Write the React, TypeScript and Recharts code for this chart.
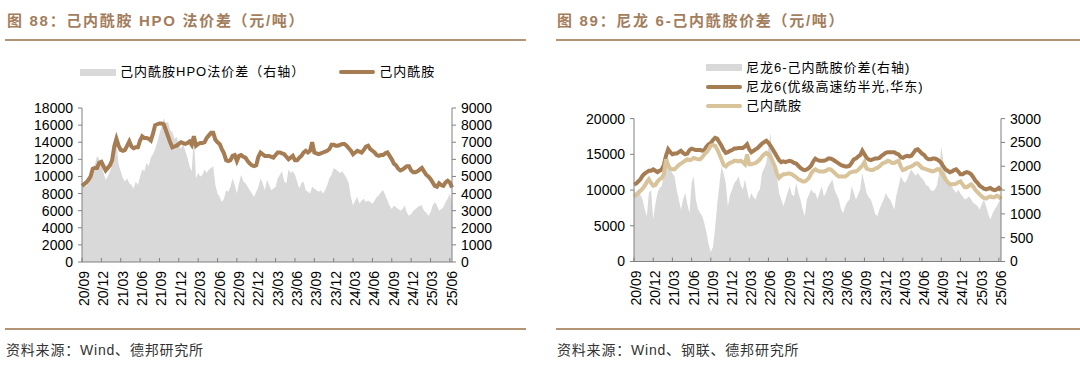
import React from 'react';
import { ComposedChart, Line, Area, XAxis, YAxis } from 'recharts';

// ---------- categories / tick labels ----------
const TICK_LABELS = ['20/09','20/12','21/03','21/06','21/09','21/12','22/03','22/06','22/09','22/12','23/03','23/06','23/09','23/12','24/03','24/06','24/09','24/12','25/03','25/06'];
const POINTS_PER_MONTH = 3; // one sample every ~10 days, starting 2020/09
const LEFT1_TICKS = [0,2000,4000,6000,8000,10000,12000,14000,16000,18000];
const RIGHT1_TICKS = [0,1000,2000,3000,4000,5000,6000,7000,8000,9000];
const LEFT2_TICKS = [0,5000,10000,15000,20000];
const RIGHT2_TICKS = [0,500,1000,1500,2000,2500,3000];

// ---------- chart 88 ----------
// 己内酰胺HPO法价差 (right axis)
const hpoSpread = [
4450,4600,4400,4900,5200,5500,5700,6200,6000,5800,5200,4800,5000,5300,5700,6400,7000,5700,5300,4900,
4700,4900,4600,4500,4300,4700,4500,5000,5400,5300,5800,5600,6100,6300,6600,7000,7500,7900,8400,8100,
8200,7700,7600,7200,7300,6900,6600,6900,6500,6100,5600,5300,7300,4900,5200,5000,5100,5400,5200,5400,
5500,5600,4500,4000,3800,3500,3700,4200,4100,4400,4900,4500,4000,4600,5100,4700,4600,4400,4200,4000,
3800,4100,4400,4900,4600,4200,4800,4500,4200,4300,4400,4900,5100,5300,4700,4600,5400,5200,5300,5100,
4700,4300,4600,4700,4200,4100,4000,4400,4300,4200,4100,4200,4000,4200,4500,4900,5100,5500,5400,5300,
5200,5300,5100,4900,4600,3800,3300,3600,3800,3400,3600,3700,3500,3600,3500,3400,3600,3800,3900,4100,
4200,3900,3600,3300,3100,3300,3200,3100,3000,3100,3300,2900,2700,2800,3000,3100,3200,3300,3300,3000,
2900,2700,2900,3300,3500,3300,3000,3100,3200,3500,3700,4000,3400
];
// 己内酰胺 (left axis)
const caprolactam88 = [
8900,9100,9300,9600,10000,10900,11000,11000,11600,11700,11200,10700,11000,11300,11900,13500,14400,13600,13100,13000,
13100,13600,14100,13500,13300,13400,13400,14200,14700,14500,14500,14400,14200,15000,16000,16100,16200,16200,16100,15400,
14700,14000,13400,13500,13600,13800,14000,13900,13800,13900,14100,13700,14700,13600,13800,13900,13900,14000,14500,14800,
15100,15100,14300,14000,13800,13200,12700,11900,11800,11900,12400,12500,11800,12400,12500,12300,12200,11800,11500,11300,
11200,11300,12300,12800,12600,12400,12400,12400,12300,12200,12500,12800,12800,12700,12600,12300,12000,12200,12400,11900,
11900,12200,12400,12800,13000,12800,13000,14000,12800,12700,12600,12700,12800,12900,13000,13200,13700,13700,13600,13600,
13700,13800,13800,13600,13300,13000,12600,12800,13000,12900,12800,13100,13500,13600,13200,13000,12800,12500,12400,12500,
12500,12700,12800,12400,12000,11500,11300,10900,10700,10800,11000,11200,11200,10700,10500,10500,10600,10800,11000,10600,
10200,10000,9700,9300,8900,8800,9200,9000,8900,9300,9500,9300,8700
];

// ---------- chart 89 ----------
// 尼龙6-己内酰胺价差 (right axis)
const nylonSpread = [
1500,1450,1520,1400,1300,1100,950,1450,1500,880,1200,1440,1550,1580,1850,2000,2200,1950,1850,1790,
1500,1300,1090,1300,1440,1200,1020,1650,1790,1300,1100,1020,950,800,600,350,200,300,700,1200,
1600,2000,1850,1650,1160,1400,1510,1650,1700,1790,1600,1510,1720,1500,1300,1440,1350,1300,1450,1510,
1860,1950,2070,2400,2700,2000,1900,1790,1440,1300,1160,1300,1450,1580,1400,1370,1650,1450,1300,1100,
950,1300,1400,1510,1450,1440,1300,1450,1580,1370,1450,1580,1650,1720,1510,1400,1300,1100,1020,1160,
1250,1300,1580,1450,1300,1400,1510,1860,1650,1440,1350,1300,1160,1000,950,1090,1200,1300,1440,1350,
1300,1200,1090,1400,1580,1790,1700,1650,1720,1850,1930,1860,1800,1860,1790,1750,1690,1600,1580,1500,
1480,1510,1600,1860,2420,2100,1860,1700,1650,1580,1500,1440,1510,1420,1370,1300,1320,1370,1300,1230,
1200,1160,1090,1200,1300,1160,1000,880,1000,1090,1160,1250,1300
];
// 尼龙6(优级高速纺半光,华东) (left axis)
const nylon6 = [
10800,10900,11200,11500,12000,12300,12500,12700,12700,12900,12700,12500,12700,12900,13500,14800,15700,15300,15000,15100,
15100,15300,15500,15200,15000,15100,15600,15800,15700,15600,15600,15600,15500,15600,16100,16400,16600,17000,17300,17200,
16700,16200,15600,15200,15300,15500,15600,15800,15800,15900,15900,15900,16100,16400,15700,15300,15500,15700,15900,16200,
16500,16700,16900,16600,16200,15700,15200,14700,14200,13900,14000,13900,14000,14100,14000,13800,13700,13400,13100,12900,
12800,12900,13100,13400,14000,14400,14200,14100,14100,14100,14200,14400,14400,14300,14100,13900,13700,13500,13400,13300,
13300,13400,13800,14300,14400,14700,14900,15500,15000,14500,14300,14200,14300,14400,14400,14500,14800,15000,15200,15300,
15300,15300,15300,15100,15000,14600,14500,14700,14800,14700,14800,15200,15600,15700,15400,15100,14900,14500,14300,14300,
14400,14400,14300,14100,13800,13300,12900,12700,12500,12600,12800,12900,12600,12200,12200,12400,12500,12400,12200,11800,
11300,11000,10600,10400,10200,10100,10200,10300,10100,10000,10100,10300,10000
];
// 己内酰胺 (left axis)
const caprolactam89 = [
9100,9300,9600,9900,10200,10600,11100,11500,11000,10600,10700,11200,11500,11700,12200,14300,13500,13000,12900,12900,
13200,13500,13700,13900,14100,14300,14200,14300,14500,14400,14300,14300,14600,15000,15300,15700,16200,16300,16200,15700,
15000,14300,13500,13300,13600,13800,13900,14100,14100,14000,14100,13900,13600,15000,13600,13600,13700,13800,14000,14300,
14700,15000,15200,15000,14700,14000,13300,12300,11700,12000,12200,12200,12300,12300,12200,12000,11800,11500,11400,11200,
11200,11400,11700,12300,12700,12900,12700,12600,12600,12600,12700,12900,12900,12700,12400,12100,11900,11900,11900,11900,
12100,12400,12500,12600,12600,12800,13100,13400,13900,13000,12900,12800,12800,13000,13100,13300,13600,13800,13900,14100,
14000,13800,13800,14000,14100,13300,12800,12900,13100,13200,13300,13500,13700,13700,13400,13100,13000,12900,12800,12700,
12600,12700,12900,12900,12500,12000,11500,11100,10800,10800,10800,10900,11100,11200,10800,10400,10400,10600,10800,10500,
10000,9700,9400,9100,8900,8800,9000,9100,9000,9000,9200,9100,8700
];

const data88 = hpoSpread.map((v, i) => ({ m: i / POINTS_PER_MONTH, spread: v, capro: caprolactam88[i] }));
const data89 = nylonSpread.map((v, i) => ({ m: i / POINTS_PER_MONTH, spread: v, nylon: nylon6[i], capro: caprolactam89[i] }));
const X_TICKS = TICK_LABELS.map((_, i) => i * 3);

// ---------- styles ----------
const BROWN = '#A67C52';
const TAN = '#D8C39A';
const GRAY = '#D9D9D9';
const AXIS = '#808080';
const TITLE = '#A37D5C';
const RULE = '#B39474';
const NUM_FONT = '"Liberation Sans", Arial, sans-serif';
const CJK_FONT = '"Liberation Sans", "Noto Sans CJK SC", sans-serif';

const XTick = (props: any) => {
  const { x, y, payload } = props;
  const label = TICK_LABELS[Math.round(payload.value / 3)];
  const tx = x + 2;
  const ty = y + 9;
  return (
    <g>
      <line x1={x} x2={x} y1={y} y2={y - 4} stroke={AXIS} strokeWidth={1} />
      <text x={tx} y={ty} transform={`rotate(-90 ${tx} ${ty})`} textAnchor="end" dominantBaseline="central"
        fontSize={14} fill="#000" fontFamily={NUM_FONT}>{label}</text>
    </g>
  );
};

const tickStyle = { fontSize: 14, fill: '#000', fontFamily: NUM_FONT };

const Swatch = ({ kind, color }: { kind: 'bar' | 'line'; color: string }) => (
  <span style={{ display: 'inline-block', width: 36, height: kind === 'bar' ? 7 : 4, background: color, marginRight: 4, verticalAlign: 'middle', borderRadius: kind === 'line' ? 2 : 0 }} />
);

const legendText: React.CSSProperties = { fontSize: 13, color: '#000', fontFamily: CJK_FONT, letterSpacing: 1, whiteSpace: 'nowrap' };

export default function App() {
  return (
    <div style={{ position: 'absolute', left: 0, top: 0, width: 1080, height: 378, background: '#fff', overflow: 'hidden' }}>
      {/* titles */}
      <div style={{ position: 'absolute', left: 7, top: 11, fontSize: 15, fontWeight: 'bold', color: TITLE, fontFamily: CJK_FONT, letterSpacing: 1.7, whiteSpace: 'nowrap', lineHeight: '20px' }}>
        图 88：己内酰胺 HPO 法价差（元/吨）
      </div>
      <div style={{ position: 'absolute', left: 557, top: 11, fontSize: 15, fontWeight: 'bold', color: TITLE, fontFamily: CJK_FONT, letterSpacing: 1.7, whiteSpace: 'nowrap', lineHeight: '20px' }}>
        图 89：尼龙 6-己内酰胺价差（元/吨）
      </div>
      <div style={{ position: 'absolute', left: 5, top: 39, width: 521, height: 2, background: RULE }} />
      <div style={{ position: 'absolute', left: 556, top: 39, width: 524, height: 2, background: RULE }} />

      {/* legends */}
      <div style={{ position: 'absolute', left: 80, top: 63, display: 'flex', alignItems: 'center', lineHeight: '18px' }}>
        <Swatch kind="bar" color={GRAY} />
        <span style={legendText}>己内酰胺HPO法价差（右轴）</span>
        <span style={{ display: 'inline-block', width: 34 }} />
        <Swatch kind="line" color={BROWN} />
        <span style={legendText}>己内酰胺</span>
      </div>
      <div style={{ position: 'absolute', left: 706, top: 58, lineHeight: '19px' }}>
        <div style={{ display: 'flex', alignItems: 'center' }}><Swatch kind="bar" color={GRAY} /><span style={legendText}>尼龙6-己内酰胺价差(右轴)</span></div>
        <div style={{ display: 'flex', alignItems: 'center' }}><Swatch kind="line" color={BROWN} /><span style={legendText}>尼龙6(优级高速纺半光,华东)</span></div>
        <div style={{ display: 'flex', alignItems: 'center' }}><Swatch kind="line" color={TAN} /><span style={legendText}>己内酰胺</span></div>
      </div>

      {/* chart 88 */}
      <div style={{ position: 'absolute', left: 0, top: 0 }}>
        <ComposedChart width={540} height={378} data={data88} margin={{ top: 108, right: 0, bottom: 56, left: 0 }}>
          <XAxis dataKey="m" type="number" domain={['dataMin', 'dataMax']} ticks={X_TICKS} interval={0}
            tick={<XTick />} tickLine={false} tickSize={0} tickMargin={0} height={60} axisLine={{ stroke: AXIS }} />
          <YAxis yAxisId="left" orientation="left" width={82} domain={[0, 18000]} ticks={LEFT1_TICKS} interval={0}
            tick={tickStyle} tickSize={4} tickMargin={5} axisLine={{ stroke: AXIS }} tickLine={{ stroke: AXIS }} />
          <YAxis yAxisId="right" orientation="right" width={88} domain={[0, 9000]} ticks={RIGHT1_TICKS} interval={0}
            tick={{ ...tickStyle, textAnchor: 'start' }} tickSize={4} tickMargin={5} axisLine={{ stroke: AXIS }} tickLine={{ stroke: AXIS }} />
          <Area yAxisId="right" dataKey="spread" type="linear" stroke="none" fill={GRAY} fillOpacity={1} isAnimationActive={false} dot={false} activeDot={false} />
          <Line yAxisId="left" dataKey="capro" type="linear" stroke={BROWN} strokeWidth={4} dot={false} activeDot={false} isAnimationActive={false} />
        </ComposedChart>
      </div>

      {/* chart 89 */}
      <div style={{ position: 'absolute', left: 540, top: 0 }}>
        <ComposedChart width={540} height={378} data={data89} margin={{ top: 118.6, right: 0, bottom: 56.5, left: 0 }}>
          <XAxis dataKey="m" type="number" domain={['dataMin', 'dataMax']} ticks={X_TICKS} interval={0}
            tick={<XTick />} tickLine={false} tickSize={0} tickMargin={0} height={60} axisLine={{ stroke: AXIS }} />
          <YAxis yAxisId="left" orientation="left" width={94} domain={[0, 20000]} ticks={LEFT2_TICKS} interval={0}
            tick={tickStyle} tickSize={4} tickMargin={5} axisLine={{ stroke: AXIS }} tickLine={{ stroke: AXIS }} />
          <YAxis yAxisId="right" orientation="right" width={79} domain={[0, 3000]} ticks={RIGHT2_TICKS} interval={0}
            tick={{ ...tickStyle, textAnchor: 'start' }} tickSize={4} tickMargin={5} axisLine={{ stroke: AXIS }} tickLine={{ stroke: AXIS }} />
          <Area yAxisId="right" dataKey="spread" type="linear" stroke="none" fill={GRAY} fillOpacity={1} isAnimationActive={false} dot={false} activeDot={false} />
          <Line yAxisId="left" dataKey="nylon" type="linear" stroke={BROWN} strokeWidth={4} dot={false} activeDot={false} isAnimationActive={false} />
          <Line yAxisId="left" dataKey="capro" type="linear" stroke={TAN} strokeWidth={4} dot={false} activeDot={false} isAnimationActive={false} />
        </ComposedChart>
      </div>

      {/* footers */}
      <div style={{ position: 'absolute', left: 5, top: 328, width: 521, height: 2, background: RULE }} />
      <div style={{ position: 'absolute', left: 556, top: 328, width: 524, height: 2, background: RULE }} />
      <div style={{ position: 'absolute', left: 6, top: 340, fontSize: 14, color: '#333', fontFamily: CJK_FONT, letterSpacing: 0.8, whiteSpace: 'nowrap', lineHeight: '20px' }}>
        资料来源：Wind、德邦研究所
      </div>
      <div style={{ position: 'absolute', left: 557, top: 340, fontSize: 14, color: '#333', fontFamily: CJK_FONT, letterSpacing: 0.8, whiteSpace: 'nowrap', lineHeight: '20px' }}>
        资料来源：Wind、钢联、德邦研究所
      </div>
    </div>
  );
}
